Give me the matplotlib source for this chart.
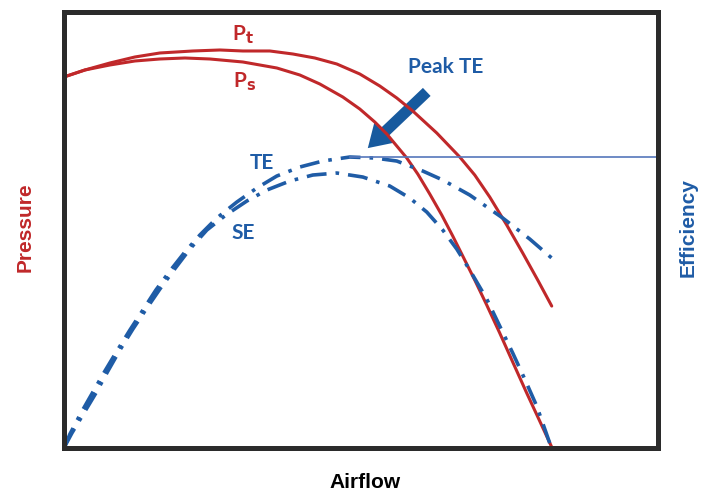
import matplotlib.pyplot as plt
from matplotlib.patches import FancyArrowPatch

# Fan curves (arbitrary units: airflow 0-594, value 0-436)
pt_x = [0, 21, 46, 71, 96, 129, 156, 179, 206, 229, 251, 273, 296, 316, 333, 349, 373, 396, 411, 426, 443, 459, 474, 488]
pt_y = [371, 378, 385, 391, 395, 397, 398, 397, 397, 394, 390, 384, 374, 362, 350, 337, 315, 291, 273, 251, 223, 195, 168, 142]

ps_x = [0, 21, 46, 71, 96, 121, 146, 179, 213, 236, 256, 279, 296, 311, 323, 333, 343, 354, 366, 378, 389, 399, 411, 423, 436, 449, 463, 476, 488]
ps_y = [371, 378, 383, 387, 389, 390, 389, 386, 380, 373, 364, 351, 339, 326, 314, 302, 290, 274, 254, 233, 212, 192, 168, 143, 115, 86, 55, 27, 1]

te_x = [1, 6, 17, 29, 41, 53, 66, 79, 92, 106, 121, 136, 153, 173, 193, 213, 236, 259, 286, 311, 333, 359, 379, 406, 439, 466, 488]
te_y = [2, 14, 35, 56, 77, 97, 118, 138, 158, 177, 196, 213, 230, 246, 260, 272, 281, 287, 291, 290, 287, 277, 268, 253, 230, 209, 190]

se_x = [1, 8, 20, 32, 44, 56, 69, 83, 96, 110, 126, 143, 162, 183, 203, 226, 249, 273, 299, 326, 346, 363, 379, 393, 406, 423, 436, 449, 461, 473, 486]
se_y = [2, 15, 35, 55, 77, 98, 119, 140, 159, 178, 199, 218, 233, 247, 258, 267, 273, 275, 271, 262, 250, 236, 218, 199, 178, 149, 122, 95, 69, 42, 5]

peak_te = (286, 291)

RED = '#c0282a'
BLUE = '#1f5ca6'
LINE_BLUE = '#5577bb'

fig = plt.figure(figsize=(7.18, 4.99), dpi=100)
ax = fig.add_axes([0.089, 0.102, 0.827, 0.874])

for xs, ys in [(pt_x, pt_y), (ps_x, ps_y)]:
    ax.plot(xs, ys, color=RED, lw=2.2, solid_capstyle='round', solid_joinstyle='round')
for xs, ys in [(te_x, te_y), (se_x, se_y)]:
    ax.plot(xs, ys, color=BLUE, lw=2.6, dashes=(5.5, 2.5, 1, 2.5))

# peak TE reference line
ax.plot([peak_te[0], 594], [peak_te[1], peak_te[1]], color=LINE_BLUE, lw=1.2)

arrow = FancyArrowPatch((365, 358), (302, 298),
                        arrowstyle='simple,head_length=0.8,head_width=1.0,tail_width=0.4',
                        mutation_scale=20, color='#175a9e', lw=0)
ax.add_patch(arrow)

lab = dict(family='Lato', fontweight='bold', ha='center', va='center')
ax.text(179, 413, r'P$_\mathbf{t}$', color=RED, fontsize=15, **lab)
ax.text(181, 366, r'P$_\mathbf{s}$', color=RED, fontsize=15, **lab)
ax.text(382, 381, 'Peak TE', color=BLUE, fontsize=15, **lab)
ax.text(198, 285, 'TE', color=BLUE, fontsize=15, **lab)
ax.text(179, 215, 'SE', color=BLUE, fontsize=15, **lab)

axis_font = dict(family='Liberation Sans', fontweight='bold', fontsize=15,
                 ha='center', va='center', transform=ax.transAxes)
ax.text(-0.066, 0.507, 'Pressure', color=RED, rotation=90, **axis_font)
ax.text(1.051, 0.505, 'Efficiency', color=BLUE, rotation=90, **axis_font)
ax.text(0.507, -0.078, 'Airflow', color='black', **axis_font)

ax.set_xlim(0, 594)
ax.set_ylim(0, 436)
ax.set_xticks([])
ax.set_yticks([])
for s in ax.spines.values():
    s.set_linewidth(3.6)
    s.set_color('#2b2b2b')

fig.savefig('out.png', dpi=100)
